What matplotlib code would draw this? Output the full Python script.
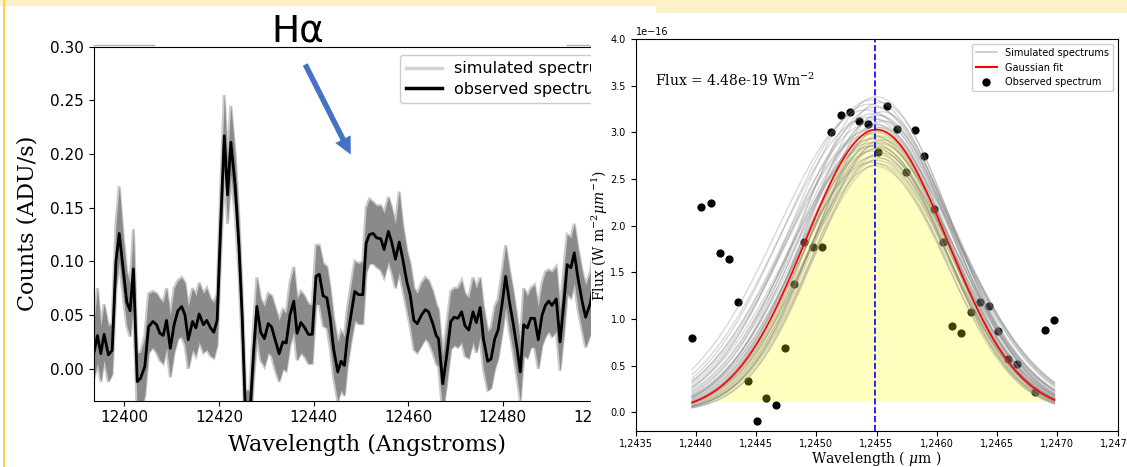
import numpy as np
import matplotlib
matplotlib.use("Agg")
import matplotlib.pyplot as plt
from matplotlib.patches import Rectangle, FancyArrowPatch
from matplotlib.lines import Line2D
from matplotlib.ticker import FuncFormatter, MultipleLocator, ScalarFormatter

# ---------------- data: left panel (H-alpha spectrum) ----------------
wl_obs = [12393.6, 12394.3, 12395.0, 12395.7, 12396.6, 12397.4, 12398.2, 12398.9, 12399.8, 12400.5,
          12401.2, 12401.9, 12402.7, 12403.4, 12404.3, 12405.1, 12406.0, 12406.8, 12407.5, 12408.2,
          12408.9, 12409.7, 12410.5, 12411.3, 12412.1, 12412.8, 12413.5, 12414.4, 12415.1, 12415.8,
          12416.7, 12417.4, 12418.2, 12418.9, 12419.6, 12420.3, 12421.1, 12421.8, 12422.5, 12423.4,
          12424.2, 12424.9, 12425.6, 12426.5, 12427.3, 12428.0, 12428.8, 12429.6, 12430.4, 12431.1,
          12431.8, 12432.7, 12433.5, 12434.2, 12435.0, 12435.8, 12436.5, 12437.3, 12438.0, 12438.9,
          12439.7, 12440.5, 12441.2, 12442.0, 12442.8, 12443.5, 12444.2, 12445.1, 12445.8, 12446.5,
          12447.1, 12447.9, 12448.7, 12449.5, 12450.4, 12451.1, 12451.8, 12452.6, 12453.3, 12454.2,
          12454.9, 12455.8, 12456.5, 12457.3, 12458.1, 12458.8, 12459.7, 12460.4, 12461.2, 12461.9,
          12462.8, 12463.6, 12464.3, 12465.2, 12465.9, 12466.4, 12467.3, 12468.1, 12469.0, 12469.7,
          12470.5, 12471.3, 12472.0, 12472.8, 12473.7, 12474.4, 12475.2, 12475.9, 12476.8, 12477.5,
          12478.3, 12479.0, 12479.9, 12480.6, 12481.4, 12482.2, 12483.0, 12483.7, 12484.4, 12485.2,
          12485.9, 12486.7, 12487.5, 12488.3, 12489.0, 12489.7, 12490.4, 12491.3, 12492.1, 12493.0,
          12493.6, 12494.4, 12495.1, 12495.9, 12496.8, 12497.5, 12498.5, 12499.0]

counts_obs = [0.016, 0.031, 0.014, 0.032, 0.013, 0.017, 0.100, 0.126, 0.090, 0.062,
              0.054, 0.093, -0.012, -0.009, 0.002, 0.039, 0.044, 0.041, 0.033, 0.031,
              0.045, 0.019, 0.041, 0.054, 0.058, 0.050, 0.027, 0.044, 0.038, 0.051,
              0.041, 0.045, 0.038, 0.034, 0.045, 0.130, 0.217, 0.162, 0.211, 0.171,
              0.115, 0.047, -0.045, -0.045, 0.016, 0.058, 0.034, 0.028, 0.042, 0.039,
              0.028, 0.014, 0.025, 0.024, 0.050, 0.063, 0.033, 0.043, 0.039, 0.032,
              0.032, 0.086, 0.088, 0.068, 0.066, 0.047, 0.019, -0.003, 0.007, 0.003,
              0.028, 0.050, 0.072, 0.069, 0.069, 0.117, 0.125, 0.126, 0.122, 0.121,
              0.111, 0.128, 0.118, 0.102, 0.118, 0.103, 0.081, 0.069, 0.045, 0.042,
              0.050, 0.055, 0.053, 0.042, 0.031, 0.028, -0.014, 0.011, 0.044, 0.048,
              0.047, 0.053, 0.040, 0.036, 0.053, 0.043, 0.057, 0.028, 0.007, 0.009,
              0.028, 0.036, 0.062, 0.086, 0.062, 0.042, 0.019, -0.003, 0.041, 0.038,
              0.047, 0.047, 0.027, 0.050, 0.059, 0.063, 0.059, 0.065, 0.025, 0.066,
              0.097, 0.094, 0.108, 0.084, 0.062, 0.048, 0.061, 0.075]

sim_hi = [0.045, 0.075, 0.040, 0.060, 0.040, 0.042, 0.135, 0.170, 0.120, 0.090,
          0.080, 0.130, 0.015, 0.015, 0.030, 0.070, 0.072, 0.070, 0.065, 0.062,
          0.075, 0.050, 0.075, 0.082, 0.085, 0.080, 0.058, 0.075, 0.068, 0.080,
          0.070, 0.075, 0.065, 0.062, 0.070, 0.160, 0.255, 0.195, 0.245, 0.200,
          0.140, 0.070, -0.020, -0.020, 0.040, 0.085, 0.065, 0.058, 0.070, 0.068,
          0.058, 0.045, 0.055, 0.052, 0.080, 0.095, 0.065, 0.072, 0.068, 0.060,
          0.060, 0.115, 0.115, 0.098, 0.095, 0.075, 0.048, 0.025, 0.035, 0.030,
          0.055, 0.078, 0.100, 0.098, 0.100, 0.150, 0.158, 0.155, 0.152, 0.152,
          0.145, 0.160, 0.150, 0.135, 0.165, 0.135, 0.110, 0.098, 0.075, 0.070,
          0.080, 0.085, 0.082, 0.072, 0.060, 0.055, 0.012, 0.040, 0.072, 0.075,
          0.075, 0.082, 0.070, 0.066, 0.085, 0.075, 0.085, 0.058, 0.035, 0.038,
          0.058, 0.065, 0.092, 0.115, 0.092, 0.072, 0.048, 0.025, 0.075, 0.068,
          0.075, 0.078, 0.058, 0.080, 0.090, 0.092, 0.090, 0.095, 0.055, 0.098,
          0.125, 0.122, 0.135, 0.112, 0.090, 0.078, 0.090, 0.105]

sim_lo = [-0.008, 0.005, -0.012, 0.008, -0.012, -0.005, 0.075, 0.100, 0.065, 0.040,
          0.030, 0.060, -0.040, -0.040, -0.025, 0.015, 0.020, 0.015, 0.008, 0.005,
          0.020, -0.008, 0.015, 0.028, 0.030, 0.022, 0.000, 0.018, 0.012, 0.025,
          0.015, 0.018, 0.012, 0.010, 0.022, 0.100, 0.185, 0.135, 0.180, 0.145,
          0.090, 0.020, -0.070, -0.070, -0.010, 0.030, 0.008, 0.002, 0.015, 0.012,
          0.000, -0.012, 0.000, -0.002, 0.022, 0.035, 0.008, 0.015, 0.012, 0.005,
          0.005, 0.060, 0.060, 0.040, 0.038, 0.020, -0.008, -0.030, -0.020, -0.025,
          0.002, 0.025, 0.045, 0.042, 0.042, 0.090, 0.098, 0.098, 0.095, 0.092,
          0.085, 0.100, 0.090, 0.075, 0.090, 0.075, 0.055, 0.040, 0.018, 0.015,
          0.022, 0.028, 0.025, 0.015, 0.005, 0.002, -0.040, -0.015, 0.018, 0.022,
          0.020, 0.025, 0.012, 0.010, 0.025, 0.015, 0.030, 0.000, -0.020, -0.018,
          0.000, 0.010, 0.035, 0.058, 0.035, 0.015, -0.008, -0.030, 0.012, 0.010,
          0.020, 0.020, 0.000, 0.022, 0.030, 0.035, 0.030, 0.035, -0.002, 0.038,
          0.070, 0.066, 0.080, 0.055, 0.035, 0.020, 0.032, 0.048]

# ---------------- data: right panel (Gaussian fit) ----------------
pts_wl = [1.24397, 1.244047, 1.244124, 1.244200, 1.244277, 1.244354, 1.244431, 1.244508,
          1.244585, 1.244662, 1.244741, 1.244818, 1.244895, 1.244972, 1.245049, 1.245126,
          1.245203, 1.245280, 1.245356, 1.245433, 1.245513, 1.245590, 1.245667, 1.245744,
          1.245821, 1.245897, 1.245974, 1.246051, 1.246128, 1.246205, 1.246282, 1.246359,
          1.246436, 1.246512, 1.246589, 1.246666, 1.246817, 1.246897, 1.246977]
pts_flux = [0.80, 2.20, 2.24, 1.71, 1.64, 1.18, 0.34, -0.09, 0.15, 0.08,
            0.69, 1.37, 1.83, 1.77, 1.77, 3.00, 3.19, 3.22, 3.12, 3.09,
            2.79, 3.28, 3.04, 2.58, 3.03, 2.75, 2.18, 1.83, 0.92, 0.85,
            1.08, 1.18, 1.14, 0.87, 0.57, 0.52, 0.22, 0.88, 0.99]   # x 1e-16

fit_amp, fit_cen, fit_sig = 3.03, 1.24550, 0.000590           # amplitude in 1e-16
continuum = 0.12                                               # 1e-16
line_center = 1.24549
flux_text = "Flux = 4.48e-19 Wm$^{-2}$"

sim_amp = [3.38, 3.35, 3.32, 3.30, 3.27, 3.24, 3.22, 3.20, 3.18, 3.16,
           3.14, 3.12, 3.10, 3.08, 3.06, 3.05, 3.03, 3.01, 3.00, 2.98,
           2.96, 2.95, 2.93, 2.92, 2.90, 2.89, 2.88, 2.86, 2.85, 2.84,
           2.82, 2.80, 2.78, 2.76, 2.74, 2.72, 2.70, 2.68, 2.66, 2.64]
sim_cen = [1.24550, 1.24546, 1.24553, 1.24544, 1.24549, 1.24541, 1.24555, 1.24547, 1.24552, 1.24543,
           1.24550, 1.24556, 1.24545, 1.24551, 1.24548, 1.24554, 1.24546, 1.24552, 1.24549, 1.24544,
           1.24553, 1.24550, 1.24547, 1.24555, 1.24551, 1.24546, 1.24553, 1.24549, 1.24545, 1.24552,
           1.24550, 1.24547, 1.24554, 1.24551, 1.24548, 1.24553, 1.24550, 1.24546, 1.24552, 1.24549]
sim_sig = [0.00062, 0.00066, 0.00060, 0.00070, 0.00064, 0.00073, 0.00058, 0.00068, 0.00061, 0.00072,
           0.00063, 0.00057, 0.00070, 0.00060, 0.00066, 0.00056, 0.00071, 0.00059, 0.00064, 0.00069,
           0.00057, 0.00062, 0.00067, 0.00055, 0.00060, 0.00065, 0.00058, 0.00063, 0.00068, 0.00056,
           0.00061, 0.00064, 0.00055, 0.00059, 0.00062, 0.00057, 0.00060, 0.00063, 0.00056, 0.00059]

# ---------------- figure ----------------
W, H = 1127, 467
fig = plt.figure(figsize=(W / 100, H / 100), dpi=100)
fig.patch.set_facecolor("white")


def fx(x):
    return x / W


def fy(y):
    return 1 - y / H


SERIF = "DejaVu Serif"

# ---- left panel ----
ax1 = fig.add_axes([fx(93.7), fy(400.5), fx(640) - fx(93.7), fy(46.7) - fy(400.5)], zorder=0)
wl = np.array(wl_obs)
ax1.plot(wl, sim_hi, color="#c9c9c9", lw=2.2, zorder=1, solid_joinstyle="miter")
ax1.plot(wl, sim_lo, color="#c9c9c9", lw=2.2, zorder=1, solid_joinstyle="miter")
ax1.fill_between(wl, sim_lo, sim_hi, color="#8a8a8a", lw=0, zorder=2)
ax1.plot(wl, counts_obs, color="black", lw=2.0, zorder=4)
ax1.set_xlim(12393.5, 12509.0)
ax1.set_ylim(-0.0296, 0.30)
ax1.xaxis.set_major_locator(MultipleLocator(20))
ax1.yaxis.set_major_locator(MultipleLocator(0.05))
fmt = ScalarFormatter(useOffset=False)
ax1.xaxis.set_major_formatter(fmt)
ax1.yaxis.set_major_formatter(FuncFormatter(lambda v, p: f"{v:.2f}"))
ax1.tick_params(labelsize=11)
ax1.spines["right"].set_visible(False)
ax1.set_xlabel("Wavelength (Angstroms)", fontsize=16, family=SERIF, labelpad=6)
ax1.set_ylabel("Counts (ADU/s)", fontsize=16, family=SERIF, labelpad=8)
h1 = Line2D([], [], color="#d3d3d3", lw=2.5)
h2 = Line2D([], [], color="black", lw=2.5)
ax1.legend([h1, h2], ["simulated spectrum", "observed spectrum"], loc="upper left",
           bbox_to_anchor=(fx(400), fy(55)), bbox_transform=fig.transFigure,
           borderaxespad=0, fontsize=11.5, handlelength=2.2, handletextpad=0.8,
           labelspacing=0.35, edgecolor="#cccccc", framealpha=1.0)

# slide artefacts over top spine
for xa, xb in [(94, 154), (567, 589)]:
    fig.add_artist(Line2D([fx(xa), fx(xb)], [fy(44.5), fy(44.5)], color="#b0b0b0",
                          lw=1.0, transform=fig.transFigure, zorder=3))

# title and arrow
fig.text(fx(298), fy(42), "Hα", ha="center", va="baseline", fontsize=27,
         family="DejaVu Sans", zorder=4)
arrow = FancyArrowPatch((fx(304), fy(62)), (fx(352), fy(157)), transform=fig.transFigure,
                        arrowstyle="simple,head_length=0.95,head_width=0.95,tail_width=0.3",
                        mutation_scale=13, color="#4472C4", lw=0, zorder=4)
fig.add_artist(arrow)

# white cover for the right part of the slide
fig.add_artist(Rectangle((fx(591), 0), 1 - fx(591), fy(6), transform=fig.transFigure,
                         facecolor="white", edgecolor="none", zorder=5))

# ---- right panel ----
ax2 = fig.add_axes([fx(635.5), fy(431), fx(1117.5) - fx(635.5), fy(39) - fy(431)], zorder=10)
scale = 1e-16
xf = np.linspace(pts_wl[0], pts_wl[-1], 400)
ax2.scatter(pts_wl, np.array(pts_flux) * scale, s=24, color="black", zorder=2,
            label="Observed spectrum")
fit_curve = fit_amp * np.exp(-0.5 * ((xf - fit_cen) / fit_sig) ** 2)
ax2.fill_between(xf, continuum * scale, fit_curve * scale, where=fit_curve >= continuum,
                 color="yellow", alpha=0.25, lw=0, zorder=3)
for a, c, s in zip(sim_amp, sim_cen, sim_sig):
    ax2.plot(xf, a * np.exp(-0.5 * ((xf - c) / s) ** 2) * scale, color="gray",
             alpha=0.3, lw=1.0, zorder=4)
ax2.plot(xf, fit_curve * scale, color="red", lw=1.2, zorder=5)
ax2.axvline(line_center, color="blue", ls="--", lw=1.2, zorder=6)
ax2.set_xlim(1.2435, 1.2475)
ax2.set_ylim(-0.2e-16, 4.0e-16)
ax2.xaxis.set_major_locator(MultipleLocator(0.0005))
ax2.xaxis.set_major_formatter(FuncFormatter(lambda v, p: f"{v:.4f}".replace(".", ",")))
ax2.yaxis.set_major_locator(MultipleLocator(0.5e-16))
ax2.tick_params(labelsize=7)
ax2.tick_params(axis="x", pad=2.5)
ax2.yaxis.get_offset_text().set_fontsize(7)
ax2.text(0.04, 0.88, flux_text, transform=ax2.transAxes, fontsize=10, family=SERIF,
         math_fontfamily="dejavuserif")
ax2.set_xlabel(r"Wavelength ( $\mu$m )", fontsize=10, family=SERIF, labelpad=0,
               math_fontfamily="dejavuserif")
ax2.set_ylabel(r"Flux (W m$^{-2}\mu m^{-1}$)", fontsize=10, family=SERIF, labelpad=0,
               math_fontfamily="dejavuserif")
lh1 = Line2D([], [], color="#c8c8c8", lw=1.2)
lh2 = Line2D([], [], color="red", lw=1.5)
lh3 = Line2D([], [], color="black", marker="o", ls="none", ms=5)
ax2.legend([lh1, lh2, lh3], ["Simulated spectrums", "Gaussian fit", "Observed spectrum"],
           loc="upper right", fontsize=7, handlelength=2.2, framealpha=1.0,
           edgecolor="#cccccc")

# slide frame (yellow)
fig.add_artist(Rectangle((0, fy(6)), 1, 6 / H, transform=fig.transFigure,
                         facecolor="#fdf1cc", edgecolor="none", zorder=20))
fig.add_artist(Rectangle((fx(656), fy(13)), 1 - fx(656), 13 / H, transform=fig.transFigure,
                         facecolor="#fdf1cc", edgecolor="none", zorder=20))
fig.add_artist(Rectangle((fx(3), 0), 2.2 / W, 1, transform=fig.transFigure,
                         facecolor="#fbd24c", edgecolor="none", zorder=21))

fig.savefig("out.png", dpi=100)
